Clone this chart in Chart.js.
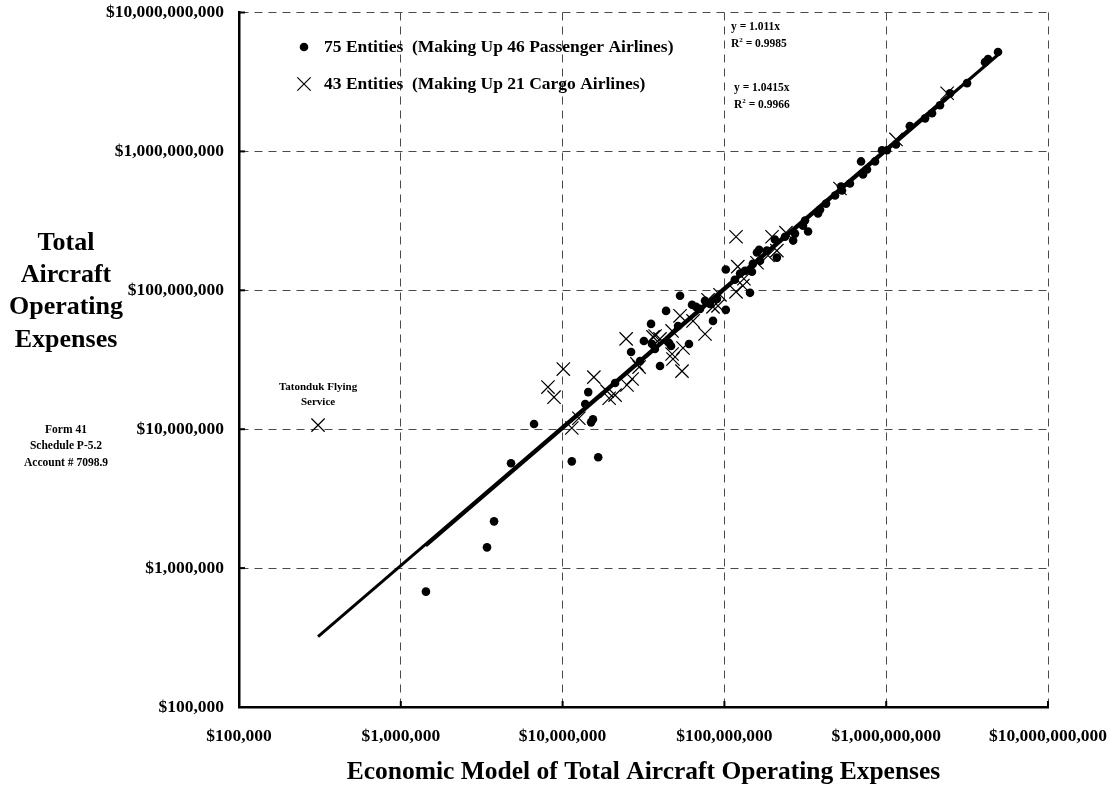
<!DOCTYPE html>
<html>
<head>
<meta charset="utf-8">
<script src="https://cdn.jsdelivr.net/npm/chart.js@4.4.1/dist/chart.umd.min.js"></script>
<style>
html,body{margin:0;padding:0;background:#fff;}
#wrap{width:1114px;height:786px;position:relative;}
</style>
</head>
<body>
<div id="wrap"><canvas id="c" width="1114" height="786"></canvas></div>
<script>
// ---- data (dollars) ----
const passengerModel = [1.43e6, 3.41e6, 3.77e6, 4.80e6, 6.66e6, 1.14e7, 1.66e7, 1.54e7, 1.50e7, 1.38e7,
  1.44e7, 2.65e7, 3.18e7, 3.57e7, 4.00e7, 4.55e7, 4.68e7, 3.52e7, 4.36e7, 5.32e7,
  5.17e7, 6.04e7, 6.31e7, 6.68e7, 8.50e7, 1.02e8, 9.00e7, 1.02e8, 1.16e8, 1.25e8,
  1.44e8, 1.48e8, 1.50e8, 1.59e8, 1.64e8, 1.83e8, 2.11e8, 2.05e8, 2.66e8, 2.73e8,
  3.29e8, 3.06e8, 3.79e8, 3.90e8, 4.25e8, 5.26e8, 5.33e8, 6.99e8, 7.19e8, 7.61e8,
  9.42e8, 1.01e9, 1.15e9, 1.40e9, 1.92e9, 2.48e9, 3.16e9, 4.08e9, 4.26e9, 4.91e9,
  2.11e7, 3.01e7, 7.07e7, 1.34e8, 2.37e8, 4.83e8, 8.53e8, 8.15e7, 1.66e8, 3.15e8,
  5.97e8, 1.74e9, 2.15e9, 3.72e7, 7.59e7];
const passengerActual = [6.77e5, 1.41e6, 2.17e6, 5.68e6, 1.09e7, 5.87e6, 6.28e6, 1.18e7, 1.12e7, 1.52e7,
  1.85e7, 3.60e7, 4.32e7, 4.11e7, 2.85e7, 4.18e7, 3.97e7, 5.73e7, 7.11e7, 9.13e7,
  5.54e7, 4.11e7, 7.86e7, 7.60e7, 6.02e7, 7.23e7, 8.68e7, 1.41e8, 1.19e8, 1.32e8,
  9.59e7, 1.36e8, 1.55e8, 1.87e8, 1.96e8, 1.93e8, 1.72e8, 2.32e8, 2.28e8, 2.56e8,
  2.65e8, 2.92e8, 3.57e8, 3.81e8, 4.21e8, 5.59e8, 5.23e8, 8.47e8, 6.82e8, 7.41e8,
  1.02e9, 1.02e9, 1.12e9, 1.52e9, 1.88e9, 2.62e9, 3.10e9, 4.39e9, 4.62e9, 5.19e9,
  2.15e7, 3.10e7, 7.35e7, 1.38e8, 2.43e8, 4.81e8, 8.47e8, 7.99e7, 1.63e8, 3.18e8,
  5.87e8, 1.73e9, 2.15e9, 3.78e7, 8.40e7];
const cargoModel = [3.08e5, 1.01e7, 8.12e6, 8.85e6, 1.56e7, 2.47e7, 1.14e7, 1.26e7, 1.94e7, 2.11e7,
  1.88e7, 2.50e7, 2.69e7, 2.97e7, 2.88e7, 3.73e7, 4.00e7, 4.81e7, 4.75e7, 5.32e7,
  4.75e7, 5.55e7, 5.47e7, 7.59e7, 6.40e7, 7.92e7, 9.13e7, 8.50e7, 1.18e8, 1.21e8,
  1.32e8, 1.86e8, 1.18e8, 1.97e8, 2.40e8, 2.11e8, 1.30e8, 5.18e8, 1.15e9, 2.38e9,
  1.59e8, 3.62e7, 9.39e7];
const cargoActual = [1.07e7, 2.71e7, 2.01e7, 1.70e7, 2.37e7, 4.47e7, 1.02e7, 1.20e7, 1.67e7, 1.76e7,
  1.88e7, 2.08e7, 2.30e7, 2.80e7, 2.95e7, 4.69e7, 4.47e7, 3.20e7, 3.48e7, 6.55e7,
  5.10e7, 3.84e7, 2.62e7, 4.85e7, 6.02e7, 8.54e7, 7.73e7, 7.60e7, 9.75e7, 1.48e8,
  1.21e8, 1.78e8, 2.43e8, 2.43e8, 2.60e8, 1.93e8, 1.08e8, 5.41e8, 1.22e9, 2.62e9,
  1.58e8, 4.62e7, 9.28e7];
const passengerSlope = 1.011;
const passengerR2 = '0.9985';
const cargoSlope = 1.0415;
const cargoR2 = '0.9966';
const tickValues = [1e5, 1e6, 1e7, 1e8, 1e9, 1e10];
const tickLabels = ['$100,000', '$1,000,000', '$10,000,000', '$100,000,000', '$1,000,000,000', '$10,000,000,000'];
const legendLabels = ['75 Entities  (Making Up 46 Passenger Airlines)', '43 Entities  (Making Up 21 Cargo Airlines)'];
const xTitle = 'Economic Model of Total Aircraft Operating Expenses';
const yTitle = ['Total', 'Aircraft', 'Operating', 'Expenses'];
const sourceNote = ['Form 41', 'Schedule P-5.2', 'Account # 7098.9'];
const outlierLabel = ['Tatonduk Flying', 'Service'];
const outlierIndex = 0; // index in cargo arrays

// ---- build ----
const SERIF = '"Liberation Serif", "Times New Roman", serif';
function trend(xs, slope) {
  const lo = Math.min(...xs), hi = Math.max(...xs);
  return [{x: lo, y: slope * lo}, {x: hi, y: slope * hi}];
}
const passengerPts = passengerModel.map((v, i) => ({x: v, y: passengerActual[i]}));
const cargoPts = cargoModel.map((v, i) => ({x: v, y: cargoActual[i]}));

const DOT_R = 4.3, CROSS_R = 9.4, CROSS_W = 1.2;

const decor = {
  id: 'decor',
  afterDraw(chart) {
    const {ctx, chartArea: a} = chart;
    const xs = chart.scales.x, ys = chart.scales.y;
    ctx.save();
    // inward tick marks
    ctx.strokeStyle = '#000';
    ctx.lineWidth = 2;
    tickValues.forEach(v => {
      const py = ys.getPixelForValue(v);
      ctx.beginPath(); ctx.moveTo(a.left, py); ctx.lineTo(a.left + 6, py); ctx.stroke();
      const px = xs.getPixelForValue(v);
      ctx.beginPath(); ctx.moveTo(px, a.bottom); ctx.lineTo(px, a.bottom - 6); ctx.stroke();
    });
    ctx.fillStyle = '#000';
    ctx.textBaseline = 'middle';
    // y axis title
    ctx.textAlign = 'center';
    ctx.font = 'bold 26px ' + SERIF;
    yTitle.forEach((t, i) => ctx.fillText(t, 66, 243 + i * 32.3));
    // source note
    ctx.font = 'bold 11.5px ' + SERIF;
    sourceNote.forEach((t, i) => ctx.fillText(t, 66, 430 + i * 16.5));
    // outlier label
    const ox = xs.getPixelForValue(cargoModel[outlierIndex]);
    const oy = ys.getPixelForValue(cargoActual[outlierIndex]);
    ctx.font = 'bold 11px ' + SERIF;
    outlierLabel.forEach((t, i) => ctx.fillText(t, ox, oy - 38 + i * 15));
    // legend
    ctx.textAlign = 'left';
    ctx.beginPath(); ctx.arc(304, 47, DOT_R, 0, Math.PI * 2); ctx.fill();
    const d = CROSS_R * Math.SQRT1_2;
    ctx.lineWidth = CROSS_W;
    ctx.beginPath();
    ctx.moveTo(304 - d, 84 - d); ctx.lineTo(304 + d, 84 + d);
    ctx.moveTo(304 + d, 84 - d); ctx.lineTo(304 - d, 84 + d);
    ctx.stroke();
    ctx.font = 'bold 17.5px ' + SERIF;
    ctx.fillText(legendLabels[0], 324, 47);
    ctx.fillText(legendLabels[1], 324, 84);
    // equations
    function eq(x, y, slope, r2) {
      ctx.font = 'bold 11.5px ' + SERIF;
      ctx.fillText('y = ' + slope + 'x', x, y);
      ctx.fillText('R', x, y + 17);
      const w = ctx.measureText('R').width;
      ctx.font = 'bold 7px ' + SERIF;
      ctx.fillText('2', x + w, y + 13);
      const w2 = ctx.measureText('2').width;
      ctx.font = 'bold 11.5px ' + SERIF;
      ctx.fillText(' = ' + r2, x + w + w2, y + 17);
    }
    eq(731, 27, passengerSlope, passengerR2);
    eq(734, 88, cargoSlope, cargoR2);
    ctx.restore();
  }
};

const axisCommon = (isX) => ({
  type: 'logarithmic',
  min: tickValues[0],
  max: tickValues[tickValues.length - 1],
  afterBuildTicks: s => { s.ticks = tickValues.map(v => ({value: v})); },
  afterFit: s => {
    if (isX) { s.height = 79; s.paddingLeft = 0; s.paddingRight = 0; }
    else { s.width = 239; s.paddingTop = 0; s.paddingBottom = 0; }
  },
  ticks: {
    callback: (v, i) => tickLabels[i],
    font: {family: SERIF, size: 17.5, weight: 'bold'},
    color: '#000',
    padding: isX ? 19 : 15,
    maxRotation: 0,
    autoSkip: false
  },
  grid: {color: '#4a4a4a', lineWidth: 1, drawTicks: false},
  border: {display: true, color: '#000', width: 2.5, dash: [8, 6]}
});

const xAxis = axisCommon(true);
xAxis.title = {display: true, text: xTitle, color: '#000',
  font: {family: SERIF, size: 25.5, weight: 'bold'}, padding: {top: 0, bottom: -2}};
const yAxis = axisCommon(false);

new Chart(document.getElementById('c'), {
  type: 'scatter',
  data: {
    datasets: [
      {label: 'Passenger trend', type: 'line', data: trend(passengerModel, passengerSlope),
        borderColor: '#000', borderWidth: 3, pointRadius: 0, fill: false, tension: 0},
      {label: 'Cargo trend', type: 'line', data: trend(cargoModel, cargoSlope),
        borderColor: '#000', borderWidth: 3, pointRadius: 0, fill: false, tension: 0},
      {label: legendLabels[0], data: passengerPts, pointStyle: 'circle', pointRadius: DOT_R,
        backgroundColor: '#000', borderColor: '#000', borderWidth: 0},
      {label: legendLabels[1], data: cargoPts, pointStyle: 'crossRot', pointRadius: CROSS_R,
        backgroundColor: 'rgba(0,0,0,0)', borderColor: '#000', borderWidth: CROSS_W}
    ]
  },
  options: {
    responsive: false,
    animation: false,
    devicePixelRatio: 1,
    layout: {padding: {top: 12.5, right: 66, left: 0, bottom: 0}},
    plugins: {legend: {display: false}, tooltip: {enabled: false}},
    scales: {x: xAxis, y: yAxis}
  },
  plugins: [decor]
});
</script>
</body>
</html>
